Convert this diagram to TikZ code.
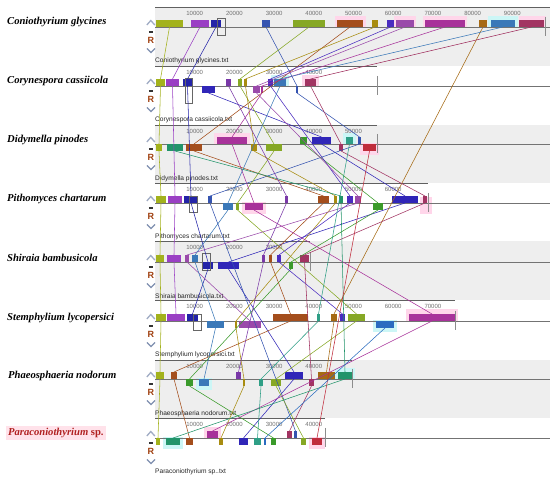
\documentclass[tikz,border=0pt]{standalone}
\usepackage{fontspec}
\setmainfont{Liberation Serif}
\newfontfamily\arl{Liberation Sans}
\definecolor{olv}{HTML}{A3B21C}
\definecolor{vio}{HTML}{9A3FC4}
\definecolor{nav}{HTML}{2323A8}
\definecolor{nvb}{HTML}{3026B8}
\definecolor{blu}{HTML}{3554B0}
\definecolor{ygr}{HTML}{86A825}
\definecolor{grn}{HTML}{3A9A2A}
\definecolor{brn}{HTML}{A44E1C}
\definecolor{gld}{HTML}{A88C10}
\definecolor{bpu}{HTML}{4A2CC0}
\definecolor{plu}{HTML}{9A4AAA}
\definecolor{mag}{HTML}{A8329A}
\definecolor{gbr}{HTML}{A66A14}
\definecolor{stl}{HTML}{3A78B8}
\definecolor{mar}{HTML}{A23462}
\definecolor{tea}{HTML}{2F9F86}
\definecolor{tgr}{HTML}{22946A}
\definecolor{rdd}{HTML}{C02C3C}
\definecolor{dpu}{HTML}{7A38A8}
\definecolor{stb}{HTML}{2A6CC0}
\definecolor{pbg}{HTML}{EEEEEE}
\definecolor{hpk}{HTML}{FFD6EA}
\definecolor{hcy}{HTML}{CCF6F6}
\definecolor{tkc}{HTML}{707070}
\definecolor{rul}{HTML}{606060}
\definecolor{rcol}{HTML}{A04010}
\definecolor{chv}{HTML}{8090B0}
\definecolor{pred}{HTML}{B02020}
\definecolor{ppk}{HTML}{FFE2EA}
\newcommand\bu[5]{\node[blk,fill=#5,minimum width=#4pt-#3pt,anchor=south west] (#1) at (#3,#2) {};}
\newcommand\bd[5]{\node[blk,fill=#5,minimum width=#4pt-#3pt,anchor=north west] (#1) at (#3,#2) {};}
\newcommand\lk[3]{\draw[lnk,#1] (#2.south) -- (#3.north);}
\newcommand\hl[4]{\fill[#4] (#1,{#3-11}) rectangle (#2,{#3+1});}
\newcommand\rulr[4]{%
  \draw[rul,line width=0.6pt] (155,#1) -- (#2,#1);
  \foreach \k in {1,...,#3} {\node[tk] (tk#4-\k) at ({155+39.7*\k},{#1+6}) {\k0000};}
}
\newcommand\ctrl[2]{%
  \draw[chv!75,line width=1.3pt] (146.8,{#1-2}) -- (150.8,{#1-6.5}) -- (154.8,{#1-2});
  \draw[black!80,line width=1.2pt] (148.8,{#1+5}) -- (152.8,{#1+5});
  \node[rr] (R#2) at (150.8,{#1+13.5}) {R};
  \draw[chv,line width=1.3pt] (147,{#1+21.5}) -- (151,{#1+25.5}) -- (155,{#1+21.5});
  \draw[black!55,line width=0.7pt] (155,#1) -- (550,#1);
}
\begin{document}
\begin{tikzpicture}[x=1pt,y=-1pt,
  blk/.style={inner sep=0pt,outer sep=0pt,minimum height=7pt,draw=none},
  lnk/.style={line width=0.55pt},
  tk/.style={font=\arl\fontsize{6}{7}\selectfont,text=tkc,inner sep=0pt},
  fl/.style={font=\arl\fontsize{6.6}{7}\selectfont,text=black!85,inner sep=0pt,anchor=west},
  sp/.style={font=\fontsize{10.6}{12}\selectfont\bfseries\itshape,inner sep=0pt,anchor=west},
  rr/.style={font=\arl\fontsize{9}{9}\selectfont\bfseries,text=rcol,inner sep=0pt},
  box/.style={draw=black!60,line width=0.5pt}]
\useasboundingbox (0,0) rectangle (550,481);
\fill[white] (0,0) rectangle (550,481);
% grey panels
\fill[pbg] (155,7) rectangle (550,66);
\fill[pbg] (155,125) rectangle (550,183);
\fill[pbg] (155,241) rectangle (550,300);
\fill[pbg] (155,360) rectangle (550,418);
% highlights
\hl{335}{366}{27}{hpk}\hl{394}{416}{27}{hpk}\hl{423}{467}{27}{hpk}\hl{488}{518}{27}{hcy}\hl{519}{546}{27}{hpk}
\hl{271}{289}{86}{hcy}\hl{302}{319}{86}{hpk}
\hl{343}{356}{144}{hcy}\hl{214}{250}{144}{hpk}
\fill[hpk] (360,143) rectangle (379,155);
\fill[hpk] (420,197) rectangle (432,214);
\fill[hpk] (242,202) rectangle (266,214);
\fill[hpk] (406,309) rectangle (458,322);
\fill[hcy] (373,320) rectangle (397,332);
\fill[hcy] (335,368) rectangle (355,380);
\fill[hcy] (196,378) rectangle (212,390);
\fill[hcy] (163,437) rectangle (183,449);
\fill[hpk] (309,437) rectangle (325,449);
\fill[hpk] (204,427) rectangle (221,439);
% rulers
\rulr{7}{550}{9}{a}
\rulr{66}{377}{4}{b}
\rulr{125}{377}{5}{c}
\rulr{183}{428}{6}{d}
\rulr{241}{310}{3}{e}
\rulr{300}{455}{7}{f}
\rulr{360}{352}{4}{g}
\rulr{418}{325}{4}{h}
% controls and centre lines
\ctrl{27}{a}\ctrl{86}{b}\ctrl{144}{c}\ctrl{203}{d}\ctrl{262}{e}\ctrl{321}{f}\ctrl{379}{g}\ctrl{438}{h}
% genome end marks
\foreach \xx/\cc in {545/27,377/86,377/144,428/203,310/262,455/321,352/379,325/438}
  \draw[black!45,line width=0.5pt] (\xx,{\cc-10}) -- (\xx,{\cc+9});
% file labels
\node[fl] (f1) at (155,61) {Coniothyrium glycines.txt};
\node[fl] (f2) at (155,120) {Corynespora cassiicola.txt};
\node[fl] (f3) at (155,179) {Didymella pinodes.txt};
\node[fl] (f4) at (155,237) {Pithomyces chartarum.txt};
\node[fl] (f5) at (155,296) {Shiraia bambusicola.txt};
\node[fl] (f6) at (155,355) {Stemphylium lycopersici.txt};
\node[fl] (f7) at (155,414) {Phaeosphaeria nodorum.txt};
\node[fl] (f8) at (155,472) {Paraconiothyrium sp..txt};
% species labels
\node[sp] (s1) at (7,22) {Coniothyrium glycines};
\node[sp] (s2) at (7,81) {Corynespora cassiicola};
\node[sp] (s3) at (7,140) {Didymella pinodes};
\node[sp] (s4) at (7,199) {Pithomyces chartarum};
\node[sp] (s5) at (7,258) {Shiraia bambusicola};
\node[sp] (s6) at (7,318) {Stemphylium lycopersici};
\node[sp] (s7) at (8,376) {Phaeosphaeria nodorum};
\node[sp,fill=ppk,text=pred,inner sep=2pt] (s8) at (6,433) {Paraconiothyrium \upshape sp.};
% ---- blocks P1
\bu{ol1}{27}{156}{183}{olv}\bu{vi1}{27}{191}{209}{vio}\bu{nv1}{27}{211}{221}{nav}
\bu{bl1}{27}{262}{270}{blu}\bu{yg1}{27}{293}{325}{ygr}\bu{br1}{27}{337}{363}{brn}
\bu{gd1}{27}{372}{378}{gld}\bu{bp1}{27}{387}{394}{bpu}\bu{pl1}{27}{396}{414}{plu}
\bu{mg1}{27}{425}{465}{mag}\bu{gb1}{27}{479}{487}{gbr}\bu{st1}{27}{491}{515}{stl}
\bu{mr1}{27}{519}{544}{mar}
% P2
\bu{ol2}{86}{156}{165}{olv}\bu{vi2}{86}{166}{179}{vio}\bu{nv2}{86}{183}{192}{nav}
\bu{dp2}{86}{226}{231}{dpu}\bu{yg2}{86}{238}{242}{ygr}\bu{gd2}{86}{244}{247}{gld}
\bu{bp2}{86}{268}{273}{bpu}\bu{st2}{86}{274}{286}{stl}\bu{mr2}{86}{305}{316}{mar}
\bd{nn2}{86}{202}{215}{nvb}\bd{pl2}{86}{253}{260}{plu}\bd{mg2}{86}{261}{263}{mag}
\bd{bl2}{86}{296}{298}{blu}
% P3
\bu{mg3}{144}{217}{247}{mag}\bu{gr3}{144}{300}{307}{grn}\bu{in3}{144}{312}{331}{nvb}
\bu{te3}{144}{346}{353}{tea}\bu{bl3}{144}{358}{361}{blu}
\bd{ol3}{144}{156}{162}{olv}\bd{tg3}{144}{167}{183}{tgr}\bd{br3}{144}{186}{202}{brn}
\bd{gd3}{144}{251}{257}{gld}\bd{yg3}{144}{266}{282}{ygr}\bd{mr3}{144}{339}{343}{mar}
\bd{rd3}{144}{363}{376}{rdd}
% P4
\bu{ol4}{203}{156}{166}{olv}\bu{vi4}{203}{168}{182}{vio}\bu{nv4}{203}{184}{198}{nav}
\bu{bl4}{203}{208}{212}{blu}\bu{dp4}{203}{285}{288}{dpu}\bu{br4}{203}{318}{329}{brn}
\bu{gd4}{203}{334}{337}{gld}\bu{tg4}{203}{339}{343}{tgr}\bu{bp4}{203}{347}{353}{bpu}
\bu{pl4}{203}{355}{361}{plu}\bu{nn4}{203}{392}{418}{nvb}\bu{mr4}{203}{423}{427}{mar}
\bd{st4}{203}{223}{233}{stl}\bd{yg4}{203}{236}{239}{ygr}\bd{mg4}{203}{245}{263}{mag}
\bd{gr4}{203}{373}{383}{grn}
% P5
\bu{ol5}{262}{156}{164}{olv}\bu{vi5}{262}{167}{181}{vio}\bu{pl5}{262}{185}{189}{plu}
\bu{st5}{262}{192}{198}{stl}\bu{dp5}{262}{262}{265}{dpu}\bu{br5}{262}{269}{272}{brn}
\bu{bp5}{262}{277}{281}{bpu}\bu{mr5}{262}{300}{309}{mar}
\bd{nv5}{262}{203}{213}{nav}\bd{nn5}{262}{218}{239}{nvb}\bd{gr5}{262}{289}{293}{grn}
% P6
\bu{ol6}{321}{156}{166}{olv}\bu{vi6}{321}{167}{185}{vio}\bu{nv6}{321}{187}{198}{nav}
\bu{br6}{321}{273}{308}{brn}\bu{te6}{321}{317}{320}{tea}\bu{gb6}{321}{331}{337}{gbr}
\bu{bp6}{321}{340}{345}{bpu}\bu{yg6}{321}{348}{365}{ygr}\bu{mg6}{321}{409}{455}{mag}
\bd{st6}{321}{207}{224}{stl}\bd{gd6}{321}{235}{237}{gld}\bd{pl6}{321}{239}{261}{plu}
\bd{s26}{321}{376}{394}{stb}
% P7
\bu{ol7}{379}{156}{164}{olv}\bu{br7}{379}{171}{177}{brn}\bu{dp7}{379}{236}{241}{dpu}
\bu{nn7}{379}{285}{303}{nvb}\bu{gb7}{379}{318}{335}{gbr}\bu{tg7}{379}{338}{352}{tgr}
\bd{gr7}{379}{186}{193}{grn}\bd{st7}{379}{199}{209}{stl}\bd{gd7}{379}{243}{245}{gld}
\bd{te7}{379}{259}{263}{tea}\bd{yg7}{379}{271}{281}{ygr}\bd{mr7}{379}{309}{314}{mar}
% P8
\bu{mg8}{438}{207}{218}{mag}\bu{mr8}{438}{287}{292}{mar}\bu{bl8}{438}{294}{297}{blu}
\bd{ol8}{438}{156}{160}{olv}\bd{tg8}{438}{166}{180}{tgr}\bd{br8}{438}{186}{193}{brn}
\bd{gd8}{438}{219}{223}{gld}\bd{nn8}{438}{239}{248}{nvb}\bd{te8}{438}{254}{261}{tea}
\bd{s28}{438}{264}{266}{stb}\bd{gr8}{438}{271}{276}{grn}\bd{yg8}{438}{301}{306}{ygr}
\bd{rd8}{438}{312}{322}{rdd}
% selection boxes
\draw[box] (217,18) rectangle (225,35);
\draw[box] (185,78) rectangle (192,103);
\draw[box] (189,196) rectangle (197,212);
\draw[box] (202,253) rectangle (210,270);
\draw[box] (193,314) rectangle (201,330);
% ---- connectors
\lk{olv}{ol1}{ol2}\lk{olv}{ol2}{ol3}\lk{olv}{ol3}{ol4}\lk{olv}{ol4}{ol5}\lk{olv}{ol5}{ol6}\lk{olv}{ol6}{ol7}\lk{olv}{ol7}{ol8}
\lk{vio}{vi1}{vi2}\lk{vio}{vi2}{vi4}\lk{vio}{vi4}{vi5}\lk{vio}{vi5}{vi6}
\lk{nav}{nv1}{nv2}\lk{nav}{nv2}{nv4}\lk{nav}{nv4}{nv5}\lk{nav}{nv5}{nv6}
\lk{nvb}{nn2}{in3}\lk{nvb}{in3}{nn4}\lk{nvb}{nn4}{nn5}\lk{nvb}{nn5}{nn7}\lk{nvb}{nn7}{nn8}
\lk{blu}{bl1}{bl2}\lk{blu}{bl2}{bl3}\lk{blu}{bl3}{bl4}\lk{blu}{bl4}{bl8}
\lk{ygr}{yg1}{yg2}\lk{ygr}{yg2}{yg3}\lk{ygr}{yg3}{yg4}\lk{ygr}{yg4}{yg6}\lk{ygr}{yg6}{yg7}\lk{ygr}{yg7}{yg8}
\lk{grn}{gr3}{gr4}\lk{grn}{gr4}{gr5}\lk{grn}{gr5}{gr7}\lk{grn}{gr7}{gr8}
\lk{brn}{br1}{br3}\lk{brn}{br3}{br4}\lk{brn}{br4}{br5}\lk{brn}{br5}{br6}\lk{brn}{br6}{br7}\lk{brn}{br7}{br8}
\lk{gld}{gd1}{gd2}\lk{gld}{gd2}{gd3}\lk{gld}{gd3}{gd4}\lk{gld}{gd4}{gd6}\lk{gld}{gd6}{gd7}\lk{gld}{gd7}{gd8}
\lk{bpu}{bp1}{bp2}\lk{bpu}{bp2}{bp4}\lk{bpu}{bp4}{bp5}\lk{bpu}{bp5}{bp6}
\lk{plu}{pl1}{pl2}\lk{plu}{pl2}{pl4}\lk{plu}{pl4}{pl5}\lk{plu}{pl5}{pl6}
\lk{mag}{mg1}{mg2}\lk{mag}{mg2}{mg3}\lk{mag}{mg3}{mg4}\lk{mag}{mg4}{mg6}\lk{mag}{mg6}{mg8}
\lk{gbr}{gb1}{gb6}\lk{gbr}{gb6}{gb7}
\lk{stl}{st1}{st2}\lk{stl}{st2}{st4}\lk{stl}{st4}{st5}\lk{stl}{st5}{st6}\lk{stl}{st6}{st7}
\lk{mar}{mr1}{mr2}\lk{mar}{mr2}{mr3}\lk{mar}{mr3}{mr4}\lk{mar}{mr4}{mr5}\lk{mar}{mr5}{mr7}\lk{mar}{mr7}{mr8}
\lk{tea}{te3}{te6}\lk{tea}{te6}{te7}\lk{tea}{te7}{te8}
\lk{tgr}{tg3}{tg4}\lk{tgr}{tg4}{tg7}\lk{tgr}{tg7}{tg8}
\lk{rdd}{rd3}{rd8}
\lk{dpu}{dp2}{dp4}\lk{dpu}{dp4}{dp5}\lk{dpu}{dp5}{dp7}
\lk{stb}{s26}{s28}
\end{tikzpicture}
\end{document}
